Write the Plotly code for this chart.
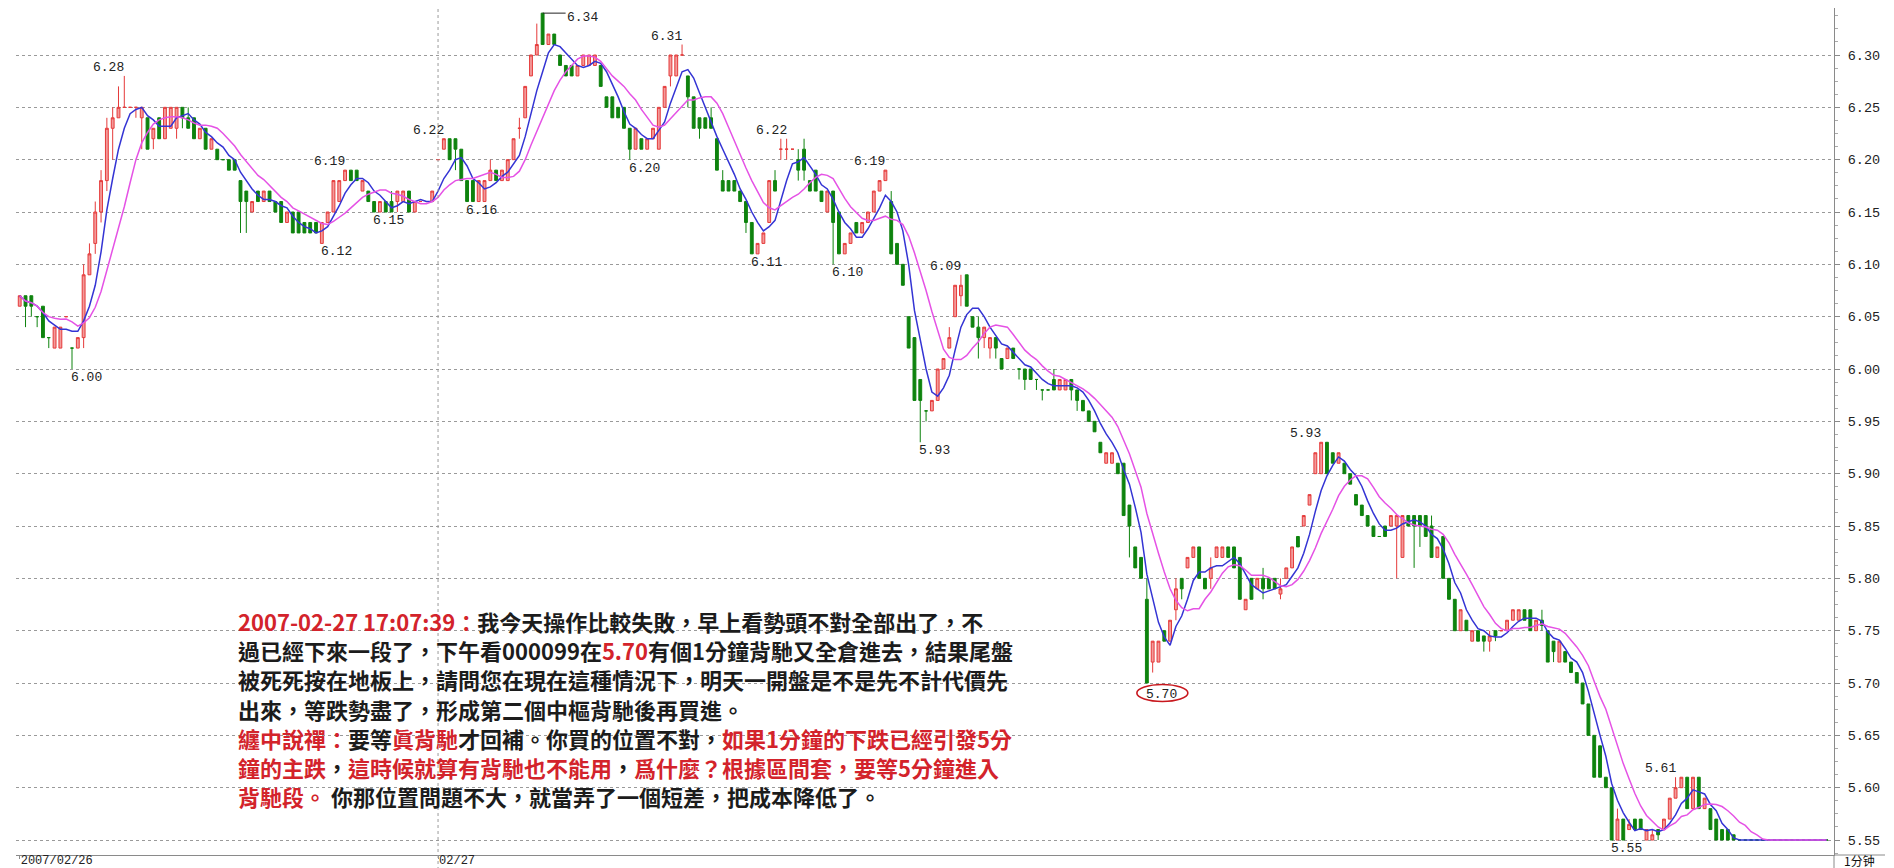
import plotly.graph_objects as go

# ---------------- data: 1-minute bars, tail of 2007/02/26 then 2007/02/27 ----------------
day1_open = [
    6.06, 6.07, 6.07, 6.05, 6.06, 6.03, 6.02, 6.02, 6.05, 6.02,
    6.02, 6.03, 6.09, 6.12, 6.15, 6.18, 6.23, 6.24, 6.25, 6.25,
    6.25, 6.24, 6.24, 6.22, 6.24, 6.22, 6.23, 6.23, 6.25, 6.24,
    6.24, 6.22, 6.23, 6.21, 6.21, 6.20, 6.20, 6.20, 6.18, 6.17,
    6.15, 6.17, 6.16, 6.17, 6.16, 6.16, 6.14, 6.15, 6.15, 6.14,
    6.14, 6.14, 6.12, 6.14, 6.15, 6.16, 6.18, 6.19, 6.19, 6.17,
    6.17, 6.16, 6.15, 6.16, 6.16, 6.16, 6.16, 6.17, 6.15, 6.16,
    6.16, 6.16]
day1_high = [
    6.07, 6.07, 6.07, 6.05, 6.06, 6.03, 6.04, 6.04, 6.05, 6.02,
    6.03, 6.10, 6.12, 6.16, 6.19, 6.24, 6.25, 6.27, 6.28, 6.25,
    6.25, 6.25, 6.24, 6.23, 6.24, 6.25, 6.25, 6.25, 6.25, 6.25,
    6.24, 6.23, 6.23, 6.22, 6.21, 6.20, 6.20, 6.20, 6.18, 6.17,
    6.16, 6.17, 6.17, 6.17, 6.16, 6.16, 6.15, 6.15, 6.15, 6.14,
    6.14, 6.14, 6.14, 6.15, 6.18, 6.18, 6.19, 6.19, 6.19, 6.18,
    6.17, 6.16, 6.16, 6.16, 6.17, 6.17, 6.17, 6.17, 6.16, 6.16,
    6.16, 6.17]
day1_low = [
    6.06, 6.04, 6.05, 6.04, 6.03, 6.02, 6.02, 6.02, 6.05, 6.00,
    6.02, 6.02, 6.09, 6.11, 6.14, 6.17, 6.20, 6.24, 6.25, 6.25,
    6.24, 6.21, 6.21, 6.21, 6.22, 6.22, 6.23, 6.22, 6.23, 6.23,
    6.22, 6.22, 6.21, 6.21, 6.20, 6.20, 6.19, 6.19, 6.13, 6.13,
    6.15, 6.16, 6.16, 6.16, 6.15, 6.14, 6.14, 6.13, 6.13, 6.13,
    6.13, 6.13, 6.12, 6.14, 6.15, 6.16, 6.18, 6.18, 6.18, 6.17,
    6.16, 6.15, 6.15, 6.15, 6.15, 6.15, 6.16, 6.15, 6.15, 6.16,
    6.16, 6.16]
day1_close = [
    6.07, 6.06, 6.06, 6.05, 6.03, 6.03, 6.04, 6.04, 6.05, 6.02,
    6.03, 6.09, 6.11, 6.15, 6.18, 6.23, 6.24, 6.25, 6.25, 6.25,
    6.25, 6.25, 6.21, 6.23, 6.22, 6.25, 6.25, 6.25, 6.24, 6.23,
    6.22, 6.23, 6.21, 6.22, 6.20, 6.20, 6.19, 6.19, 6.16, 6.16,
    6.16, 6.16, 6.17, 6.16, 6.15, 6.14, 6.15, 6.13, 6.13, 6.13,
    6.13, 6.13, 6.14, 6.15, 6.18, 6.18, 6.19, 6.18, 6.18, 6.18,
    6.16, 6.15, 6.16, 6.15, 6.15, 6.17, 6.17, 6.15, 6.16, 6.16,
    6.16, 6.17]

day2_open = [
    6.20, 6.21, 6.22, 6.22, 6.21, 6.18, 6.18, 6.16, 6.16, 6.18,
    6.19, 6.18, 6.18, 6.20, 6.23, 6.24, 6.28, 6.30, 6.34, 6.31,
    6.32, 6.30, 6.29, 6.29, 6.28, 6.29, 6.29, 6.29, 6.29, 6.26,
    6.26, 6.25, 6.25, 6.23, 6.21, 6.22, 6.21, 6.22, 6.21, 6.25,
    6.28, 6.28, 6.30, 6.28, 6.26, 6.24, 6.24, 6.24, 6.22, 6.18,
    6.18, 6.18, 6.17, 6.16, 6.14, 6.11, 6.12, 6.14, 6.18, 6.21,
    6.21, 6.21, 6.20, 6.21, 6.18, 6.19, 6.17, 6.15, 6.17, 6.15,
    6.11, 6.12, 6.14, 6.13, 6.14, 6.15, 6.17, 6.18, 6.16, 6.12,
    6.10, 6.05, 6.03, 5.99, 5.96, 5.96, 5.97, 6.00, 6.02, 6.05,
    6.07, 6.09, 6.05, 6.04, 6.03, 6.02, 6.03, 6.01, 6.01, 6.02,
    6.00, 6.00, 6.00, 5.99, 5.98, 5.98, 5.99, 5.98, 5.98, 5.99,
    5.98, 5.97, 5.96, 5.95, 5.93, 5.91, 5.91, 5.91, 5.91, 5.87,
    5.83, 5.82, 5.78, 5.72, 5.72, 5.75, 5.74, 5.77, 5.80, 5.81,
    5.82, 5.83, 5.80, 5.80, 5.82, 5.82, 5.83, 5.83, 5.82, 5.77,
    5.80, 5.79, 5.80, 5.80, 5.80, 5.785, 5.80, 5.81, 5.84, 5.85,
    5.87, 5.90, 5.90, 5.93, 5.92, 5.91, 5.91, 5.90, 5.88, 5.87,
    5.86, 5.85, 5.84, 5.85, 5.85, 5.85, 5.82, 5.86, 5.86, 5.86,
    5.86, 5.85, 5.82, 5.84, 5.80, 5.78, 5.75, 5.76, 5.74, 5.75,
    5.745, 5.74, 5.75, 5.75, 5.75, 5.76, 5.76, 5.77, 5.77, 5.75,
    5.76, 5.75, 5.74, 5.72, 5.73, 5.72, 5.71, 5.70, 5.68, 5.65,
    5.64, 5.61, 5.60, 5.55, 5.57, 5.56, 5.57, 5.57, 5.55, 5.55,
    5.56, 5.56, 5.57, 5.59, 5.60, 5.61, 5.58, 5.61, 5.58, 5.58,
    5.57, 5.56, 5.56, 5.555, 5.55, 5.55, 5.55, 5.55, 5.55, 5.55,
    5.55, 5.55, 5.55, 5.55, 5.55, 5.55, 5.55, 5.55, 5.55, 5.55]
day2_high = [
    6.20, 6.22, 6.22, 6.22, 6.21, 6.18, 6.18, 6.18, 6.18, 6.20,
    6.19, 6.19, 6.20, 6.22, 6.24, 6.27, 6.30, 6.33, 6.34, 6.32,
    6.32, 6.30, 6.29, 6.29, 6.29, 6.30, 6.30, 6.30, 6.29, 6.26,
    6.26, 6.25, 6.25, 6.23, 6.23, 6.22, 6.22, 6.23, 6.25, 6.27,
    6.30, 6.30, 6.31, 6.28, 6.26, 6.24, 6.24, 6.25, 6.22, 6.19,
    6.18, 6.18, 6.17, 6.16, 6.14, 6.12, 6.13, 6.18, 6.19, 6.22,
    6.22, 6.21, 6.21, 6.22, 6.18, 6.19, 6.17, 6.17, 6.17, 6.15,
    6.12, 6.13, 6.14, 6.14, 6.15, 6.17, 6.18, 6.19, 6.17, 6.12,
    6.10, 6.05, 6.03, 5.99, 5.96, 5.97, 6.00, 6.01, 6.04, 6.08,
    6.09, 6.09, 6.05, 6.05, 6.04, 6.03, 6.03, 6.01, 6.02, 6.02,
    6.00, 6.00, 6.00, 5.99, 5.98, 5.98, 6.00, 5.99, 5.99, 5.99,
    5.98, 5.97, 5.96, 5.95, 5.93, 5.92, 5.92, 5.91, 5.91, 5.87,
    5.83, 5.82, 5.80, 5.74, 5.74, 5.75, 5.76, 5.80, 5.80, 5.82,
    5.83, 5.83, 5.80, 5.82, 5.83, 5.83, 5.83, 5.83, 5.82, 5.78,
    5.80, 5.80, 5.81, 5.80, 5.80, 5.80, 5.81, 5.83, 5.84, 5.86,
    5.88, 5.92, 5.93, 5.93, 5.92, 5.92, 5.91, 5.90, 5.88, 5.87,
    5.86, 5.85, 5.84, 5.85, 5.86, 5.86, 5.86, 5.86, 5.86, 5.86,
    5.86, 5.86, 5.83, 5.84, 5.80, 5.78, 5.77, 5.76, 5.75, 5.75,
    5.745, 5.75, 5.75, 5.75, 5.76, 5.77, 5.77, 5.77, 5.77, 5.76,
    5.77, 5.75, 5.74, 5.74, 5.73, 5.72, 5.71, 5.70, 5.68, 5.65,
    5.64, 5.61, 5.60, 5.58, 5.57, 5.57, 5.57, 5.57, 5.56, 5.56,
    5.56, 5.57, 5.59, 5.61, 5.61, 5.61, 5.61, 5.61, 5.59, 5.58,
    5.57, 5.56, 5.56, 5.555, 5.55, 5.55, 5.55, 5.55, 5.55, 5.55,
    5.55, 5.55, 5.55, 5.55, 5.55, 5.55, 5.55, 5.55, 5.55, 5.55]
day2_low = [
    6.20, 6.21, 6.20, 6.19, 6.18, 6.16, 6.16, 6.16, 6.16, 6.18,
    6.18, 6.18, 6.18, 6.20, 6.22, 6.24, 6.28, 6.30, 6.31, 6.31,
    6.31, 6.29, 6.28, 6.28, 6.28, 6.29, 6.29, 6.29, 6.27, 6.25,
    6.24, 6.24, 6.23, 6.20, 6.21, 6.21, 6.21, 6.22, 6.21, 6.25,
    6.27, 6.28, 6.30, 6.25, 6.23, 6.22, 6.23, 6.23, 6.19, 6.17,
    6.17, 6.17, 6.16, 6.13, 6.11, 6.11, 6.12, 6.14, 6.17, 6.20,
    6.20, 6.21, 6.18, 6.18, 6.17, 6.17, 6.16, 6.15, 6.10, 6.11,
    6.11, 6.12, 6.13, 6.13, 6.14, 6.15, 6.17, 6.18, 6.11, 6.10,
    6.08, 6.02, 5.97, 5.93, 5.95, 5.96, 5.97, 6.00, 6.02, 6.05,
    6.06, 6.06, 6.04, 6.01, 6.02, 6.01, 6.01, 6.00, 6.01, 6.01,
    5.99, 5.98, 5.99, 5.98, 5.97, 5.98, 5.98, 5.98, 5.98, 5.97,
    5.96, 5.96, 5.95, 5.94, 5.92, 5.91, 5.91, 5.90, 5.86, 5.82,
    5.81, 5.80, 5.70, 5.71, 5.72, 5.74, 5.74, 5.76, 5.78, 5.81,
    5.82, 5.80, 5.79, 5.79, 5.82, 5.82, 5.82, 5.81, 5.78, 5.77,
    5.78, 5.79, 5.78, 5.79, 5.79, 5.78, 5.80, 5.81, 5.83, 5.85,
    5.87, 5.90, 5.90, 5.90, 5.91, 5.91, 5.90, 5.89, 5.87, 5.86,
    5.85, 5.84, 5.84, 5.84, 5.85, 5.80, 5.82, 5.85, 5.81, 5.83,
    5.84, 5.82, 5.82, 5.80, 5.78, 5.75, 5.75, 5.75, 5.74, 5.74,
    5.73, 5.73, 5.74, 5.75, 5.75, 5.76, 5.76, 5.76, 5.75, 5.75,
    5.75, 5.72, 5.72, 5.72, 5.72, 5.71, 5.70, 5.68, 5.65, 5.61,
    5.61, 5.60, 5.55, 5.55, 5.55, 5.56, 5.56, 5.56, 5.55, 5.55,
    5.55, 5.56, 5.57, 5.59, 5.60, 5.58, 5.58, 5.58, 5.58, 5.56,
    5.55, 5.55, 5.55, 5.55, 5.55, 5.55, 5.55, 5.55, 5.55, 5.55,
    5.55, 5.55, 5.55, 5.55, 5.55, 5.55, 5.55, 5.55, 5.55, 5.55]
day2_close = [
    6.20, 6.22, 6.20, 6.21, 6.18, 6.16, 6.16, 6.18, 6.18, 6.19,
    6.18, 6.19, 6.20, 6.22, 6.23, 6.27, 6.30, 6.31, 6.31, 6.32,
    6.31, 6.29, 6.28, 6.28, 6.29, 6.30, 6.30, 6.30, 6.27, 6.25,
    6.24, 6.24, 6.23, 6.21, 6.23, 6.21, 6.22, 6.23, 6.25, 6.27,
    6.30, 6.30, 6.30, 6.26, 6.23, 6.23, 6.23, 6.23, 6.19, 6.17,
    6.17, 6.17, 6.16, 6.14, 6.11, 6.12, 6.13, 6.18, 6.17, 6.21,
    6.21, 6.21, 6.19, 6.19, 6.17, 6.17, 6.16, 6.17, 6.14, 6.11,
    6.12, 6.13, 6.13, 6.14, 6.15, 6.17, 6.18, 6.19, 6.11, 6.10,
    6.08, 6.02, 5.97, 5.97, 5.96, 5.97, 6.00, 6.01, 6.03, 6.08,
    6.08, 6.06, 6.04, 6.03, 6.04, 6.03, 6.02, 6.00, 6.02, 6.01,
    6.00, 5.99, 5.99, 5.99, 5.98, 5.98, 5.98, 5.99, 5.99, 5.98,
    5.97, 5.96, 5.95, 5.94, 5.92, 5.92, 5.92, 5.90, 5.86, 5.85,
    5.81, 5.80, 5.70, 5.74, 5.74, 5.74, 5.76, 5.79, 5.79, 5.82,
    5.83, 5.80, 5.79, 5.81, 5.83, 5.83, 5.82, 5.81, 5.78, 5.78,
    5.78, 5.80, 5.79, 5.79, 5.79, 5.79, 5.81, 5.83, 5.83, 5.86,
    5.88, 5.92, 5.93, 5.90, 5.91, 5.92, 5.90, 5.89, 5.87, 5.86,
    5.85, 5.84, 5.84, 5.84, 5.86, 5.86, 5.86, 5.85, 5.85, 5.85,
    5.84, 5.82, 5.83, 5.80, 5.78, 5.75, 5.77, 5.75, 5.75, 5.74,
    5.74, 5.745, 5.745, 5.75, 5.76, 5.77, 5.77, 5.76, 5.75, 5.76,
    5.755, 5.72, 5.73, 5.74, 5.72, 5.71, 5.70, 5.68, 5.65, 5.61,
    5.61, 5.60, 5.55, 5.57, 5.55, 5.565, 5.56, 5.56, 5.56, 5.555,
    5.555, 5.57, 5.59, 5.60, 5.61, 5.58, 5.61, 5.58, 5.59, 5.56,
    5.55, 5.55, 5.55, 5.55, 5.55, 5.55, 5.55, 5.55, 5.55, 5.55,
    5.55, 5.55, 5.55, 5.55, 5.55, 5.55, 5.55, 5.55, 5.55, 5.55]

date_labels = ["2007/02/26", "02/27"]
period_label = "1分钟"

# bars whose high / low the chart marks with a price label
label_idx = [18, 9, 52, 56, 61, 73, 77, 90, 114, 105, 132, 126, 149, 140, 162, 155, 194, 224, 274, 285]
label_kind = ["H", "L", "L", "H", "L", "H", "L", "P", "H", "L", "H", "L", "H", "L", "H", "L", "C", "H", "L", "H"]

RED_T = "#d3232b"
BLK_T = "#1c1c1c"
comment_lines = [
    [("2007-02-27 17:07:39：", RED_T), ("我今天操作比較失敗，早上看勢頭不對全部出了，不", BLK_T)],
    [("過已經下來一段了，下午看000099在", BLK_T), ("5.70", RED_T), ("有個1分鐘背馳又全倉進去，結果尾盤", BLK_T)],
    [("被死死按在地板上，請問您在現在這種情況下，明天一開盤是不是先不計代價先", BLK_T)],
    [("出來，等跌勢盡了，形成第二個中樞背馳後再買進。", BLK_T)],
    [("纏中說禪：", RED_T), ("要等", BLK_T), ("眞背馳", RED_T), ("才回補。你買的位置不對，", BLK_T),
     ("如果1分鐘的下跌已經引發5分", RED_T)],
    [("鐘的主跌", RED_T), ("，", BLK_T), ("這時候就算有背馳也不能用", RED_T), ("，", BLK_T),
     ("爲什麼？根據區間套，要等5分鐘進入", RED_T)],
    [("背馳段。", RED_T), (" 你那位置問題不大，就當弄了一個短差，把成本降低了。", BLK_T)],
]

# ---------------- assemble ----------------
opens = day1_open + day2_open
highs = day1_high + day2_high
lows = day1_low + day2_low
closes = day1_close + day2_close
n = len(closes)
idx = list(range(n))
day2_start = len(day1_close)


def moving_average(vals, w):
    out = []
    for i in range(len(vals)):
        seg = vals[max(0, i - w + 1): i + 1]
        out.append(sum(seg) / len(seg))
    return out


ma5 = moving_average(closes, 5)
ma10 = moving_average(closes, 10)

W, H = 1894, 868
ML, MR, MT, MB = 8, 68, 0, 21
PW, PH = W - ML - MR, H - MT - MB

RED_LINE = "#e53a3a"
RED_FILL = "#f39a9a"
GREEN = "#0e830e"
GRID = "#9a9a9a"
AXIS = "#8a8a8a"
NUMFONT = "Liberation Mono"

fig = go.Figure()
fig.add_trace(go.Candlestick(
    x=idx, open=opens, high=highs, low=lows, close=closes,
    increasing=dict(line=dict(color=RED_LINE, width=1), fillcolor=RED_FILL),
    decreasing=dict(line=dict(color=GREEN, width=1), fillcolor=GREEN),
    whiskerwidth=0, hoverinfo="skip", showlegend=False))
fig.add_trace(go.Scatter(x=idx, y=ma5, mode="lines", line=dict(color="#3434d4", width=1.5),
                         hoverinfo="skip", showlegend=False))
fig.add_trace(go.Scatter(x=idx, y=ma10, mode="lines", line=dict(color="#e552e5", width=1.5),
                         hoverinfo="skip", showlegend=False))

LBLFONT = dict(family=NUMFONT, size=13, color="#222")
annotations = []
shapes = []
for i, kind in zip(label_idx, label_kind):
    if kind == "H":
        annotations.append(dict(x=i, y=highs[i], xref="x", yref="y", text=f"{highs[i]:.2f}",
                                showarrow=False, xanchor="right", yanchor="bottom", xshift=2, yshift=-1,
                                font=LBLFONT))
    elif kind == "L":
        annotations.append(dict(x=i, y=lows[i], xref="x", yref="y", text=f"{lows[i]:.2f}",
                                showarrow=False, xanchor="left", yanchor="top", xshift=-3, yshift=1,
                                font=LBLFONT))
    elif kind == "C":
        annotations.append(dict(x=i, y=lows[i], xref="x", yref="y", text=f"{lows[i]:.2f}",
                                showarrow=False, xanchor="left", yanchor="top", xshift=-3, yshift=-2,
                                font=LBLFONT))
        shapes.append(dict(type="circle", xref="x", yref="y", xsizemode="pixel", ysizemode="pixel",
                           xanchor=i, yanchor=lows[i], x0=-10, x1=41, y0=-18.5, y1=-1.5,
                           line=dict(color="#c8181e", width=1.6)))
    else:  # peak with leader line
        annotations.append(dict(x=i, y=highs[i], xref="x", yref="y", text=f"{highs[i]:.2f}",
                                showarrow=False, xanchor="left", yanchor="middle", xshift=22, yshift=-4,
                                font=LBLFONT))
        shapes.append(dict(type="line", xref="x", yref="y", xsizemode="pixel", xanchor=i,
                           x0=0, x1=23, y0=highs[i], y1=highs[i],
                           line=dict(color="#222", width=1)))

# commentary block
for li, segs in enumerate(comment_lines):
    txt = "".join(f'<span style="color:{c}">{t}</span>' for t, c in segs)
    yc = 613 + 29.2 * li
    annotations.append(dict(x=(228 - ML) / PW, y=1 - (yc - MT) / PH, xref="paper", yref="paper",
                            text=txt, showarrow=False, xanchor="left", yanchor="middle",
                            font=dict(family="Noto Sans CJK TC", size=22, color=BLK_T, weight=600)))

# period box label
annotations.append(dict(x=1 + 25 / PW, y=-(852 - PH) / PH, xref="paper", yref="paper",
                        text=period_label, showarrow=False, xanchor="center", yanchor="middle",
                        font=dict(family="Noto Sans CJK SC", size=12, color="#111")))

# day separator (dotted)
shapes.append(dict(type="line", xref="x", yref="paper", x0=day2_start, x1=day2_start,
                   y0=-15 / PH, y1=1, line=dict(color=GRID, width=1, dash="dot")))
# axis extension into date strip + frame lines
shapes.append(dict(type="line", xref="paper", yref="paper", x0=1, x1=1, y0=-MB / PH, y1=0,
                   line=dict(color=AXIS, width=1)))
shapes.append(dict(type="line", xref="paper", yref="paper", x0=1, x1=1 + 51 / PW, y0=0, y1=0,
                   line=dict(color=AXIS, width=1)))
shapes.append(dict(type="line", xref="paper", yref="paper", x0=-ML / PW, x1=1 + 51 / PW,
                   y0=-19 / PH, y1=-19 / PH, line=dict(color="#b0b0b0", width=1)))

fig.update_layout(
    width=W, height=H, template="none",
    margin=dict(l=ML, r=MR, t=MT, b=MB, autoexpand=False),
    paper_bgcolor="white", plot_bgcolor="white",
    showlegend=False, hovermode=False, dragmode=False,
    boxgap=0.3,
    annotations=annotations, shapes=shapes,
    xaxis=dict(range=[-0.64, n + 0.27], showgrid=False, zeroline=False, automargin=False,
               rangeslider=dict(visible=False),
               tickmode="array", tickvals=[0, day2_start], ticktext=date_labels,
               ticks="outside", ticklen=3, tickcolor=AXIS, ticklabelposition="outside right",
               ticklabelstandoff=-6,
               tickfont=dict(family=NUMFONT, size=12, color="#222"),
               showline=True, linecolor=AXIS, linewidth=1),
    yaxis=dict(range=[5.5357, 6.3449], side="right", automargin=False,
               tick0=5.55, dtick=0.05, tickformat=".2f",
               ticks="outside", ticklen=5, tickcolor=AXIS, ticklabelstandoff=5,
               tickfont=dict(family=NUMFONT, size=13.5, color="#222"),
               showgrid=True, gridcolor=GRID, griddash="dot", gridwidth=1,
               zeroline=False, showline=True, linecolor=AXIS, linewidth=1,
               minor=dict(dtick=0.0125, ticks="outside", ticklen=3, tickcolor="#aaaaaa", showgrid=False)),
)

fig.write_html("out.html")
